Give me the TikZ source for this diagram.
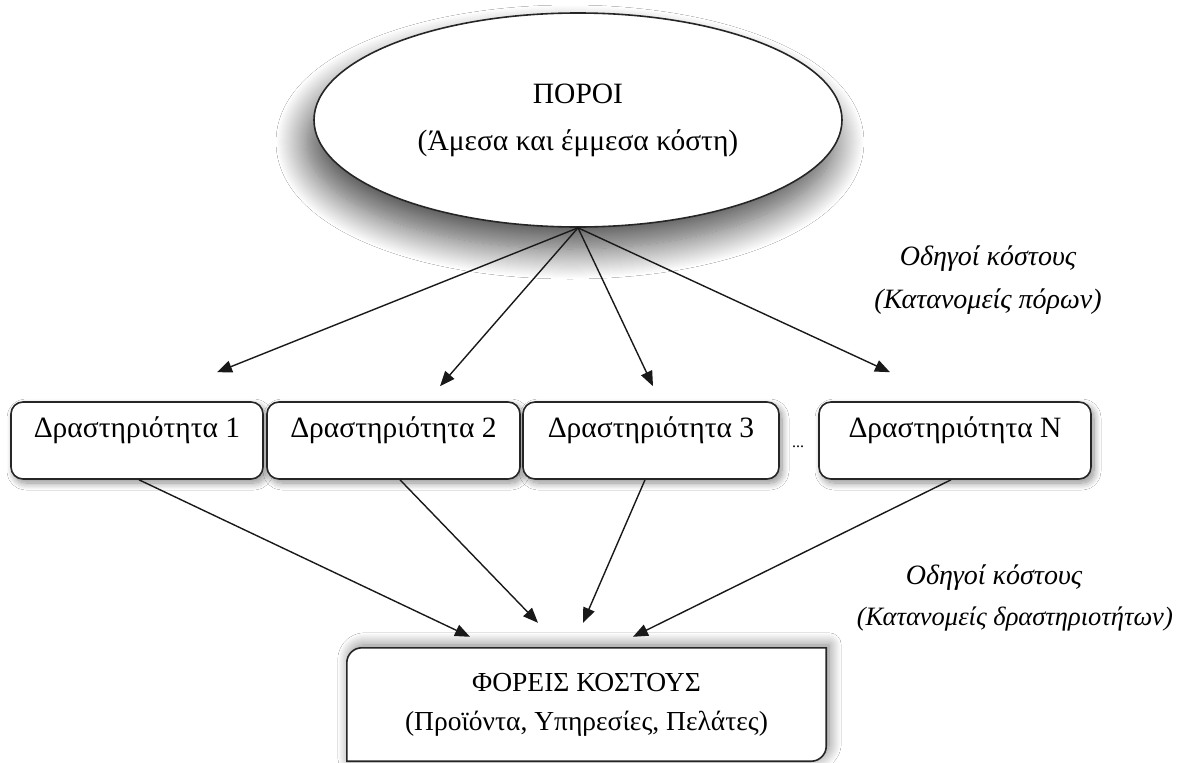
\documentclass[tikz,border=0pt]{standalone}
\usepackage{fontspec}
\setmainfont{Liberation Serif}
\usetikzlibrary{shapes.geometric,arrows.meta,shadows.blur}
\tikzset{
  boxline/.style={draw=black!85, line width=1.6pt},
  bshadow/.style={blur shadow={shadow xshift=3pt, shadow yshift=-4pt, shadow blur radius=7pt, shadow blur steps=15, shadow opacity=45}},
  actbox/.style={boxline, fill=white, bshadow, rectangle, rounded corners=12pt, minimum height=77pt, inner sep=0pt, text height=21pt, text depth=28pt, font=\fontsize{29.5}{34}\selectfont},
  arr/.style={draw=black!90, line width=1.4pt, -{Triangle[length=15pt,width=12pt]}},
  lbl/.style={font=\fontsize{28}{43}\selectfont\itshape, align=center, inner sep=0pt},
  txt/.style={font=\fontsize{29.5}{47}\selectfont, align=center, inner sep=0pt}
}
\begin{document}
\begin{tikzpicture}[x=1pt,y=-1pt]
\useasboundingbox (0,0) rectangle (1178,763);
\fill[white] (0,0) rectangle (1178,763);

% top ellipse
\node[ellipse, boxline, fill=white, blur shadow={shadow xshift=-8pt, shadow yshift=-22pt, shadow blur radius=30pt, shadow blur steps=30, shadow opacity=70},
      minimum width=528pt, minimum height=214pt, inner sep=0pt, txt] (po) at (578,120)
  {ΠΟΡΟΙ\\(Άμεσα και έμμεσα κόστη)};

% activity boxes
\node[actbox, minimum width=252pt] (b1) at (137,440.5) {Δραστηριότητα 1};
\node[actbox, minimum width=253pt] (b2) at (393.5,440.5) {Δραστηριότητα 2};
\node[actbox, minimum width=256pt] (b3) at (651,440.5) {Δραστηριότητα 3};
\node[actbox, minimum width=272pt] (bN) at (955,440.5) {Δραστηριότητα N};
\node[inner sep=0pt, font=\fontsize{16}{16}\selectfont] (dots) at (798,447) {...};

% bottom box
\node[minimum width=479pt, minimum height=113pt, inner sep=0pt] (fb) at (586.5,704.5) {};
\draw[boxline, fill=white, blur shadow={shadow xshift=3pt, shadow yshift=3pt, shadow blur radius=12pt, shadow blur steps=15, shadow opacity=50}]
  (fb.south west) -- ([yshift=-15pt]fb.north west) arc[start angle=180,end angle=90,radius=15pt]
  -- (fb.north east) -- ([yshift=15pt]fb.south east) arc[start angle=0,end angle=-90,radius=15pt] -- cycle;
\node[txt, font=\fontsize{27.5}{39}\selectfont] (fbt) at (fb.center) {ΦΟΡΕΙΣ ΚΟΣΤΟΥΣ\\(Προϊόντα, Υπηρεσίες, Πελάτες)};

% labels
\node[lbl] (l1) at (988,280) {Οδηγοί κόστους\\(Κατανομείς πόρων)};
\node[lbl] (l2a) at (994,578) {Οδηγοί κόστους};
\node[lbl, font=\fontsize{26.5}{30}\selectfont\itshape, anchor=east] (l2b) at (1173,619) {(Κατανομείς δραστηριοτήτων)};

% arrows ellipse -> activities
\draw[arr] (po.south) -- ([xshift=80pt,yshift=29pt]b1.north);
\draw[arr] (po.south) -- ([xshift=46.5pt,yshift=15pt]b2.north);
\draw[arr] (po.south) -- ([xshift=2pt,yshift=15pt]b3.north);
\draw[arr] (po.south) -- ([xshift=-65pt,yshift=29pt]bN.north);

% arrows activities -> cost objects
\draw[arr] ([xshift=2pt]b1.south) -- ([xshift=-116.5pt,yshift=11pt]fb.north);
\draw[arr] ([xshift=6.5pt]b2.south) -- ([xshift=-48.5pt,yshift=25pt]fb.north);
\draw[arr] ([xshift=-6pt]b3.south) -- ([xshift=-3.5pt,yshift=25pt]fb.north);
\draw[arr] ([xshift=-4pt]bN.south) -- ([xshift=46.5pt,yshift=11pt]fb.north);
\end{tikzpicture}
\end{document}
